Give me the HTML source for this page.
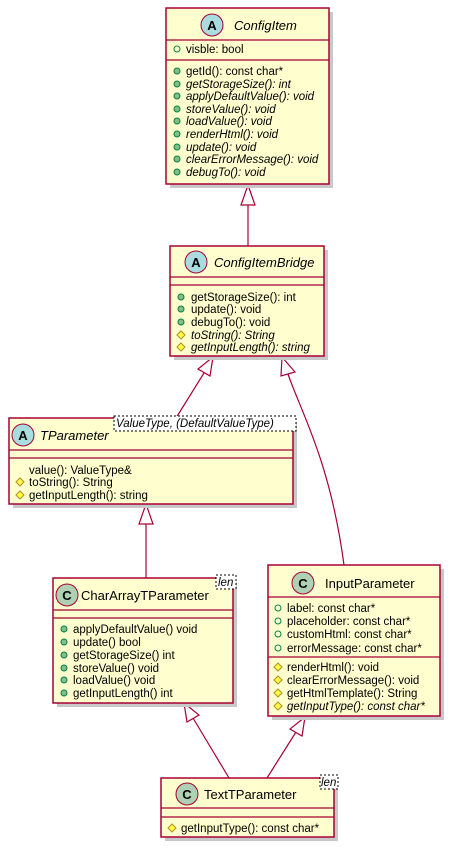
<!DOCTYPE html>
<html><head><meta charset="utf-8"><style>
html,body{margin:0;padding:0;background:#fff;width:453px;height:850px;overflow:hidden}
svg text{font-family:"Liberation Sans",sans-serif;font-size:11.5px;fill:#000}
.i{font-style:italic}
.t{font-size:13px}
.b{fill:#FEFECE;stroke:#A80036;stroke-width:1.5}
.sh{fill:#c8c8c8}
.l{stroke:#A80036;stroke-width:1.2;fill:none}
.pub{fill:#84BE84;stroke:#038048;stroke-width:1}
.fld{fill:none;stroke:#038048;stroke-width:1}
.pro{fill:#FFFF44;stroke:#B38D22;stroke-width:1}
.ar{fill:#fff;stroke:#A80036;stroke-width:1.2}
</style></head><body>
<svg width="453" height="850" xmlns="http://www.w3.org/2000/svg">
<line class="l" x1="248" y1="205" x2="248" y2="246"/>
<polygon class="ar" points="248,185 241,205 255,205"/>
<line class="l" x1="204" y1="373" x2="176" y2="418"/>
<polygon class="ar" points="213,357 210,376 198,369"/>
<path class="l" d="M288,374 C300,410 330,460 344,565"/>
<polygon class="ar" points="282,357 295,372 281,376"/>
<line class="l" x1="146" y1="524" x2="146" y2="578"/>
<polygon class="ar" points="146,504 139,524 153,524"/>
<line class="l" x1="193" y1="718" x2="229" y2="778"/>
<polygon class="ar" points="184,703 199,715 187,722"/>
<line class="l" x1="296" y1="732" x2="267" y2="778"/>
<polygon class="ar" points="305,717 302,736 290,729"/>

<rect class="sh" x="170" y="12" width="163" height="176"/>
<rect class="b" x="166" y="8" width="163" height="176"/>
<line class="l" x1="166" y1="40" x2="329" y2="40"/>
<line class="l" x1="166" y1="60" x2="329" y2="60"/>
<circle cx="212" cy="25" r="11" fill="#A9DCDF" stroke="#A80036" stroke-width="1"/>
<text x="212" y="30" text-anchor="middle" style="font-weight:bold;font-size:13px">A</text>
<text x="234" y="30" class="i t">ConfigItem</text>
<circle class="fld" cx="177" cy="49" r="3"/><text x="186" y="53">visble: bool</text>
<circle class="pub" cx="177" cy="71" r="3"/><text x="186" y="75">getId(): const char*</text>
<circle class="pub" cx="177" cy="84" r="3"/><text x="186" y="88" class="i">getStorageSize(): int</text>
<circle class="pub" cx="177" cy="96" r="3"/><text x="186" y="100" class="i">applyDefaultValue(): void</text>
<circle class="pub" cx="177" cy="109" r="3"/><text x="186" y="113" class="i">storeValue(): void</text>
<circle class="pub" cx="177" cy="121" r="3"/><text x="186" y="125" class="i">loadValue(): void</text>
<circle class="pub" cx="177" cy="134" r="3"/><text x="186" y="138" class="i">renderHtml(): void</text>
<circle class="pub" cx="177" cy="147" r="3"/><text x="186" y="151" class="i">update(): void</text>
<circle class="pub" cx="177" cy="159" r="3"/><text x="186" y="163" class="i">clearErrorMessage(): void</text>
<circle class="pub" cx="177" cy="172" r="3"/><text x="186" y="176" class="i">debugTo(): void</text>

<rect class="sh" x="174" y="250" width="154" height="110"/>
<rect class="b" x="170" y="246" width="154" height="110"/>
<line class="l" x1="170" y1="277" x2="324" y2="277"/>
<line class="l" x1="170" y1="285" x2="324" y2="285"/>
<circle cx="196" cy="262" r="11" fill="#A9DCDF" stroke="#A80036" stroke-width="1"/>
<text x="196" y="267" text-anchor="middle" style="font-weight:bold;font-size:13px">A</text>
<text x="214" y="267" class="i t">ConfigItemBridge</text>
<circle class="pub" cx="181" cy="297" r="3"/><text x="191" y="301">getStorageSize(): int</text>
<circle class="pub" cx="181" cy="309" r="3"/><text x="191" y="313">update(): void</text>
<circle class="pub" cx="181" cy="322" r="3"/><text x="191" y="326">debugTo(): void</text>
<polygon class="pro" points="181,331 185,335 181,339 177,335"/><text x="191" y="339" class="i">toString(): String</text>
<polygon class="pro" points="181,343 185,347 181,351 177,347"/><text x="191" y="351" class="i">getInputLength(): string</text>

<rect class="sh" x="13" y="422" width="284" height="86"/>
<rect class="b" x="9" y="418" width="284" height="86"/>
<line class="l" x1="9" y1="450" x2="293" y2="450"/>
<line class="l" x1="9" y1="458" x2="293" y2="458"/>
<circle cx="23" cy="435" r="11" fill="#A9DCDF" stroke="#A80036" stroke-width="1"/>
<text x="23" y="440" text-anchor="middle" style="font-weight:bold;font-size:13px">A</text>
<text x="40" y="440" class="i t">TParameter</text>
<rect x="114" y="416" width="182" height="15" fill="#fff" stroke="#000" stroke-width="1" stroke-dasharray="2,2"/>
<text x="116" y="427" class="i">ValueType, (DefaultValueType)</text>
<text x="29" y="474">value(): ValueType&amp;</text>
<polygon class="pro" points="20,478 24,482 20,486 16,482"/><text x="29" y="486">toString(): String</text>
<polygon class="pro" points="20,491 24,495 20,499 16,495"/><text x="29" y="499">getInputLength(): string</text>

<rect class="sh" x="57" y="582" width="180" height="125"/>
<rect class="b" x="53" y="578" width="180" height="125"/>
<line class="l" x1="53" y1="610" x2="233" y2="610"/>
<line class="l" x1="53" y1="618" x2="233" y2="618"/>
<circle cx="67" cy="595" r="11" fill="#ADD1B2" stroke="#A80036" stroke-width="1"/>
<text x="67" y="600" text-anchor="middle" style="font-weight:bold;font-size:13px">C</text>
<text x="81" y="600" class="t">CharArrayTParameter</text>
<rect x="216" y="575" width="20" height="14" fill="#fff" stroke="#000" stroke-width="1" stroke-dasharray="2,2"/>
<text x="218" y="586" class="i">len</text>
<circle class="pub" cx="64" cy="629" r="3"/><text x="73" y="633">applyDefaultValue() void</text>
<circle class="pub" cx="64" cy="642" r="3"/><text x="73" y="646">update() bool</text>
<circle class="pub" cx="64" cy="655" r="3"/><text x="73" y="659">getStorageSize() int</text>
<circle class="pub" cx="64" cy="668" r="3"/><text x="73" y="672">storeValue() void</text>
<circle class="pub" cx="64" cy="680" r="3"/><text x="73" y="684">loadValue() void</text>
<circle class="pub" cx="64" cy="693" r="3"/><text x="73" y="697">getInputLength() int</text>

<rect class="sh" x="272" y="569" width="172" height="151"/>
<rect class="b" x="268" y="565" width="172" height="151"/>
<line class="l" x1="268" y1="597" x2="440" y2="597"/>
<line class="l" x1="268" y1="657" x2="440" y2="657"/>
<circle cx="303" cy="583" r="11" fill="#ADD1B2" stroke="#A80036" stroke-width="1"/>
<text x="303" y="588" text-anchor="middle" style="font-weight:bold;font-size:13px">C</text>
<text x="325" y="588" class="t">InputParameter</text>
<circle class="fld" cx="278" cy="608" r="3"/><text x="287" y="612">label: const char*</text>
<circle class="fld" cx="278" cy="621" r="3"/><text x="287" y="625">placeholder: const char*</text>
<circle class="fld" cx="278" cy="634" r="3"/><text x="287" y="638">customHtml: const char*</text>
<circle class="fld" cx="278" cy="648" r="3"/><text x="287" y="652">errorMessage: const char*</text>
<polygon class="pro" points="278,663 282,667 278,671 274,667"/><text x="287" y="671">renderHtml(): void</text>
<polygon class="pro" points="278,676 282,680 278,684 274,680"/><text x="287" y="684">clearErrorMessage(): void</text>
<polygon class="pro" points="278,689 282,693 278,697 274,693"/><text x="287" y="697">getHtmlTemplate(): String</text>
<polygon class="pro" points="278,702 282,706 278,710 274,706"/><text x="287" y="710" class="i">getInputType(): const char*</text>

<rect class="sh" x="165" y="782" width="173" height="59"/>
<rect class="b" x="161" y="778" width="173" height="59"/>
<line class="l" x1="161" y1="808" x2="334" y2="808"/>
<line class="l" x1="161" y1="817" x2="334" y2="817"/>
<circle cx="187" cy="794" r="11" fill="#ADD1B2" stroke="#A80036" stroke-width="1"/>
<text x="187" y="799" text-anchor="middle" style="font-weight:bold;font-size:13px">C</text>
<text x="204" y="799" class="t">TextTParameter</text>
<rect x="320" y="775" width="18" height="14" fill="#fff" stroke="#000" stroke-width="1" stroke-dasharray="2,2"/>
<text x="321" y="786" class="i">len</text>
<polygon class="pro" points="172,824 176,828 172,832 168,828"/><text x="181" y="832">getInputType(): const char*</text>
</svg>
</body></html>
